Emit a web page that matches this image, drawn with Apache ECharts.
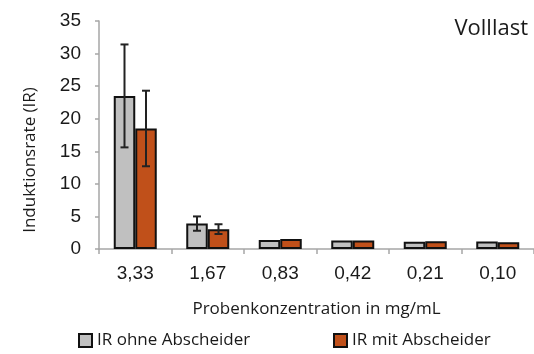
<!DOCTYPE html>
<html>
<head>
<meta charset="utf-8">
<script src="https://cdn.jsdelivr.net/npm/echarts@6/dist/echarts.min.js"></script>
<style>
  html, body { margin: 0; padding: 0; background: #fff; }
  #chart { width: 534px; height: 354px; }
</style>
</head>
<body>
<div id="chart"></div>
<script>
// Probenkonzentrationen (mg/mL)
const categories = ['3,33', '1,67', '0,83', '0,42', '0,21', '0,10'];
// Induktionsrate ohne / mit Abscheider
const irOhne = [23.5, 3.9, 1.4, 1.3, 1.1, 1.15];
const irMit = [18.5, 3.05, 1.55, 1.3, 1.2, 1.05];
// Standardabweichungen (0 = kein Fehlerbalken)
const errOhne = [7.9, 1.1, 0, 0, 0, 0];
const errMit = [5.8, 0.75, 0, 0, 0, 0];
const yTicks = [0, 5, 10, 15, 20, 25, 30, 35];

const BAR_W = 21.5;
const sans = '"Open Sans", Lato, sans-serif';
const arial = '"Liberation Sans", Arial, sans-serif';
const ink = '#1a1a1a';

function errorBars(values, errs, offset) {
  return {
    type: 'custom',
    silent: true,
    z: 10,
    data: errs.map((e, i) => [i, values[i], e]),
    renderItem: function (params, api) {
      const idx = api.value(0), v = api.value(1), e = api.value(2);
      if (!e) return null;
      const hi = api.coord([idx, v + e]);
      const lo = api.coord([idx, v - e]);
      const x = hi[0] + offset;
      const cap = 4;
      const style = { stroke: '#222', lineWidth: 2 };
      return {
        type: 'group',
        children: [
          { type: 'line', shape: { x1: x, y1: hi[1], x2: x, y2: lo[1] }, style },
          { type: 'line', shape: { x1: x - cap, y1: hi[1], x2: x + cap, y2: hi[1] }, style },
          { type: 'line', shape: { x1: x - cap, y1: lo[1], x2: x + cap, y2: lo[1] }, style }
        ]
      };
    }
  };
}

const legendBase = {
  padding: 0,
  itemWidth: 13, itemHeight: 13,
  icon: 'rect',
  textStyle: { fontFamily: sans, fontSize: 17, color: ink }
};

const chart = echarts.init(document.getElementById('chart'), null, { renderer: 'canvas' });
chart.setOption({
  animation: false,
  backgroundColor: '#fff',
  title: {
    text: 'Volllast',
    right: 6,
    top: 18,
    padding: 0,
    textStyle: { fontFamily: sans, fontSize: 22, fontWeight: 'normal', color: ink }
  },
  legend: [
    Object.assign({ data: ['IR ohne Abscheider'], left: 78, top: 332 }, legendBase),
    Object.assign({ data: ['IR mit Abscheider'], left: 333, top: 332 }, legendBase)
  ],
  grid: { left: 99, top: 21, width: 439, height: 228 },
  xAxis: {
    type: 'category',
    data: categories,
    name: 'Probenkonzentration in mg/mL',
    nameLocation: 'middle',
    nameGap: 52,
    nameTextStyle: { fontFamily: sans, fontSize: 17, color: ink, verticalAlign: 'top' },
    axisLine: { lineStyle: { color: '#a6a6a6', width: 1.5 } },
    axisTick: { show: true, alignWithLabel: false, length: 5, lineStyle: { color: '#a6a6a6', width: 1.5 } },
    axisLabel: { margin: 15, fontFamily: arial, fontSize: 19, color: ink }
  },
  yAxis: {
    type: 'value',
    min: 0, max: 35, interval: 5,
    name: 'Induktionsrate (IR)',
    nameLocation: 'middle',
    nameRotate: 90,
    nameGap: 60,
    nameTextStyle: { fontFamily: sans, fontSize: 17, color: ink, padding: [0, 50, 0, 0] },
    axisLine: { show: true, lineStyle: { color: '#a6a6a6', width: 1.5 } },
    axisTick: { show: true, length: 4, lineStyle: { color: '#a6a6a6', width: 1.5 } },
    splitLine: { show: false },
    axisLabel: {
      margin: 18, fontFamily: arial, fontSize: 19, color: ink,
      formatter: v => (yTicks.includes(v) ? String(v) : '')
    }
  },
  series: [
    {
      name: 'IR ohne Abscheider',
      type: 'bar',
      data: irOhne,
      barWidth: BAR_W,
      barGap: '0%',
      itemStyle: { color: '#c0c0c0', borderColor: '#111', borderWidth: 2 }
    },
    {
      name: 'IR mit Abscheider',
      type: 'bar',
      data: irMit,
      barWidth: BAR_W,
      barGap: '0%',
      itemStyle: { color: '#c0501a', borderColor: '#111', borderWidth: 2 }
    },
    errorBars(irOhne, errOhne, -BAR_W / 2),
    errorBars(irMit, errMit, BAR_W / 2)
  ]
});
</script>
</body>
</html>
